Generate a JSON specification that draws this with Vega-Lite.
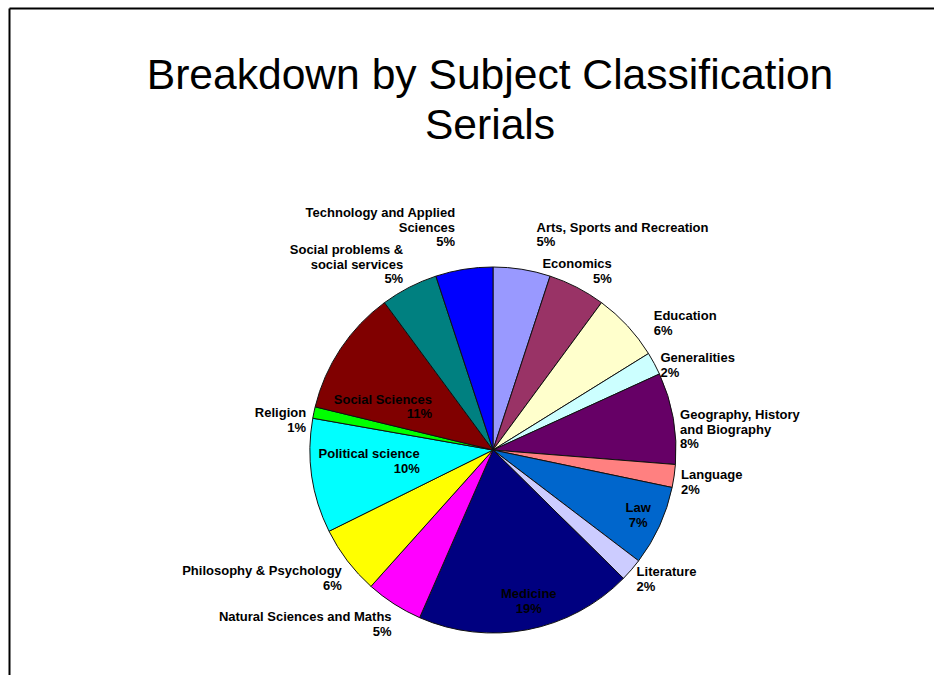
{
  "$schema": "https://vega.github.io/schema/vega-lite/v6.json",
  "autosize": "none",
  "padding": {"left": 9, "top": 8, "right": 0, "bottom": 0},
  "width": 968,
  "height": 884,
  "background": "white",
  "title": {
    "text": ["Breakdown by Subject Classification", "Serials"],
    "font": "Liberation Sans",
    "fontSize": 42.6,
    "fontWeight": "normal",
    "lineHeight": 50,
    "color": "black",
    "anchor": "middle",
    "offset": -140,
    "dx": -3
  },
  "config": {
    "view": {"stroke": null},
    "text": {"baseline": "middle", "lineBreak": "\n", "font": "Liberation Sans", "fontWeight": "bold", "fontSize": 13, "lineHeight": 14.5, "color": "black"}
  },
  "data": {
    "values": [
      {"name": "Arts, Sports and Recreation", "value": 5, "label": "Arts, Sports and Recreation\n5%"},
      {"name": "Economics", "value": 5, "label": "Economics\n5%"},
      {"name": "Education", "value": 6, "label": "Education\n6%"},
      {"name": "Generalities", "value": 2, "label": "Generalities\n2%"},
      {"name": "Geography, History and Biography", "value": 8, "label": "Geography, History\nand Biography\n8%"},
      {"name": "Language", "value": 2, "label": "Language\n2%"},
      {"name": "Law", "value": 7, "label": "Law\n7%"},
      {"name": "Literature", "value": 2, "label": "Literature\n2%"},
      {"name": "Medicine", "value": 19, "label": "Medicine\n19%"},
      {"name": "Natural Sciences and Maths", "value": 5, "label": "Natural Sciences and Maths\n5%"},
      {"name": "Philosophy & Psychology", "value": 6, "label": "Philosophy & Psychology\n6%"},
      {"name": "Political science", "value": 10, "label": "Political science\n10%"},
      {"name": "Religion", "value": 1, "label": "Religion\n1%"},
      {"name": "Social Sciences", "value": 11, "label": "Social Sciences\n11%"},
      {"name": "Social problems & social services", "value": 5, "label": "Social problems &\nsocial services\n5%"},
      {"name": "Technology and Applied Sciences", "value": 5, "label": "Technology and Applied\nSciences\n5%"}
    ]
  },
  "encoding": {
    "theta": {"field": "value", "type": "quantitative", "stack": true},
    "order": {"field": "name", "type": "ordinal", "sort": "ascending"}
  },
  "layer": [
    {
      "mark": {"type": "arc", "outerRadius": 183, "stroke": "#111111", "strokeWidth": 1},
      "encoding": {
        "color": {
          "field": "name",
          "type": "nominal",
          "legend": null,
          "scale": {
            "domain": ["Arts, Sports and Recreation", "Economics", "Education", "Generalities", "Geography, History and Biography", "Language", "Law", "Literature", "Medicine", "Natural Sciences and Maths", "Philosophy & Psychology", "Political science", "Religion", "Social Sciences", "Social problems & social services", "Technology and Applied Sciences"],
            "range": ["#9999FF", "#993366", "#FFFFCC", "#CCFFFF", "#660066", "#FF8080", "#0066CC", "#CCCCFF", "#000080", "#FF00FF", "#FFFF00", "#00FFFF", "#00FF00", "#800000", "#008080", "#0000FF"]
          }
        }
      }
    },
    {
      "mark": {"type": "text", "radius": 225, "align": "left", "dx": 8},
      "encoding": {
        "detail": {"field": "name"},
        "text": {"condition": {"test": {"field": "name", "oneOf": ["Arts, Sports and Recreation"]}, "field": "label", "type": "nominal"}, "value": ""}
      }
    },
    {
      "mark": {"type": "text", "radius": 220, "align": "right", "dx": 18, "dy": 10},
      "encoding": {
        "detail": {"field": "name"},
        "text": {"condition": {"test": {"field": "name", "oneOf": ["Economics"]}, "field": "label", "type": "nominal"}, "value": ""}
      }
    },
    {
      "mark": {"type": "text", "radius": 212, "align": "left", "dx": 5, "dy": 10},
      "encoding": {
        "detail": {"field": "name"},
        "text": {"condition": {"test": {"field": "name", "oneOf": ["Education"]}, "field": "label", "type": "nominal"}, "value": ""}
      }
    },
    {
      "mark": {"type": "text", "radius": 190, "align": "left", "dy": -2},
      "encoding": {
        "detail": {"field": "name"},
        "text": {"condition": {"test": {"field": "name", "oneOf": ["Generalities", "Geography, History and Biography", "Language", "Literature"]}, "field": "label", "type": "nominal"}, "value": ""}
      }
    },
    {
      "mark": {"type": "text", "radius": 240, "align": "right"},
      "encoding": {
        "detail": {"field": "name"},
        "text": {"condition": {"test": {"field": "name", "oneOf": ["Technology and Applied Sciences"]}, "field": "label", "type": "nominal"}, "value": ""}
      }
    },
    {
      "mark": {"type": "text", "radius": 220, "align": "right", "dx": 11, "dy": -4},
      "encoding": {
        "detail": {"field": "name"},
        "text": {"condition": {"test": {"field": "name", "oneOf": ["Social problems & social services"]}, "field": "label", "type": "nominal"}, "value": ""}
      }
    },
    {
      "mark": {"type": "text", "radius": 195, "align": "right", "dx": 4, "dy": 3},
      "encoding": {
        "detail": {"field": "name"},
        "text": {"condition": {"test": {"field": "name", "oneOf": ["Religion", "Philosophy & Psychology", "Natural Sciences and Maths"]}, "field": "label", "type": "nominal"}, "value": ""}
      }
    },
    {
      "mark": {"type": "text", "radius": 78, "align": "right", "dx": 4, "dy": -7},
      "encoding": {
        "detail": {"field": "name"},
        "text": {"condition": {"test": {"field": "name", "oneOf": ["Social Sciences", "Political science"]}, "field": "label", "type": "nominal"}, "value": ""}
      }
    },
    {
      "mark": {"type": "text", "radius": 152, "align": "center", "dx": 7, "dy": -5},
      "encoding": {
        "detail": {"field": "name"},
        "text": {"condition": {"test": {"field": "name", "oneOf": ["Law", "Medicine"]}, "field": "label", "type": "nominal"}, "value": ""}
      }
    },
    {
      "mark": {"type": "text", "text": ""},
      "encoding": {
        "x": {"datum": 0, "type": "quantitative", "scale": {"domain": [0, 1]}, "axis": {"orient": "top", "domain": true, "domainColor": "black", "domainWidth": 2, "ticks": false, "labels": false, "grid": false, "title": null}},
        "y": {"datum": 0, "type": "quantitative", "scale": {"domain": [0, 1]}, "axis": {"orient": "left", "domain": true, "domainColor": "black", "domainWidth": 2, "ticks": false, "labels": false, "grid": false, "title": null}}
      }
    }
  ]
}
